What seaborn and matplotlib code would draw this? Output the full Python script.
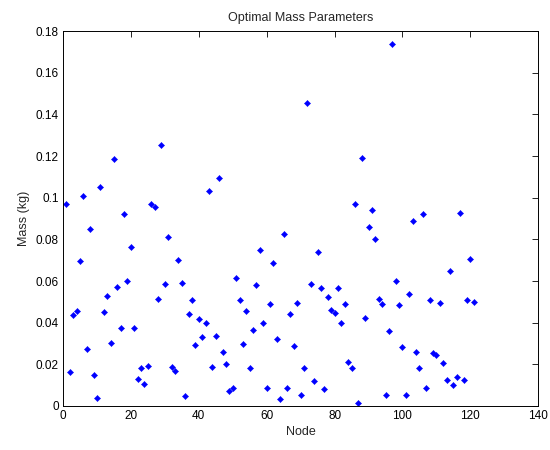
import matplotlib
matplotlib.use("Agg")
import matplotlib.pyplot as plt
import seaborn as sns
import pandas as pd
from matplotlib.ticker import FuncFormatter, MultipleLocator

nodes = list(range(1, 122))
mass = [
    0.097, 0.0164, 0.0438, 0.0457, 0.0694, 0.1006, 0.0274, 0.0849, 0.0148, 0.0038,
    0.1049, 0.0449, 0.0528, 0.0302, 0.1185, 0.0569, 0.0374, 0.0922, 0.0602, 0.0765,
    0.0374, 0.0131, 0.0184, 0.0106, 0.0194, 0.097, 0.0953, 0.0512, 0.1254, 0.0586,
    0.0812, 0.0189, 0.017, 0.0703, 0.059, 0.0048, 0.0443, 0.0507, 0.0295, 0.0417,
    0.0332, 0.040, 0.1033, 0.0189, 0.0338, 0.1096, 0.026, 0.020, 0.0074, 0.0085,
    0.0613, 0.0507, 0.030, 0.0454, 0.0184, 0.0364, 0.058, 0.0749, 0.040, 0.0085,
    0.049, 0.0685, 0.032, 0.0032, 0.0828, 0.0085, 0.0443, 0.0289, 0.0496, 0.0053,
    0.0184, 0.1455, 0.0586, 0.0122, 0.0738, 0.0565, 0.008, 0.0523, 0.0463, 0.0448,
    0.0565, 0.040, 0.0491, 0.0212, 0.018, 0.097, 0.0016, 0.119, 0.0422, 0.086,
    0.0943, 0.080, 0.0516, 0.049, 0.0053, 0.0362, 0.1739, 0.060, 0.0485, 0.0284,
    0.0053, 0.0538, 0.089, 0.026, 0.0184, 0.0922, 0.0085, 0.0507, 0.0255, 0.0247,
    0.0496, 0.0205, 0.0127, 0.0648, 0.0101, 0.0138, 0.0927, 0.0124, 0.051, 0.0707,
    0.050,
]

title = "Optimal Mass Parameters"
xlabel = "Node"
ylabel = "Mass (kg)"

df = pd.DataFrame({"Node": nodes, "Mass": mass})

sns.set_style("white")
plt.rcParams["font.family"] = ["Liberation Sans", "DejaVu Sans"]

fig = plt.figure(figsize=(5.5, 4.5), dpi=100)
ax = fig.add_axes([0.1145, 0.0978, 0.9787 - 0.1145, 0.931 - 0.0978])

sns.scatterplot(data=df, x="Node", y="Mass", ax=ax, marker="D", s=10,
                color="#0000ff", edgecolor="#0000ff", linewidth=0.3)

ax.set_xlim(0, 140)
ax.set_ylim(0, 0.18)
ax.xaxis.set_major_locator(MultipleLocator(20))
ax.yaxis.set_major_locator(MultipleLocator(0.02))
ax.yaxis.set_major_formatter(FuncFormatter(lambda v, p: "%g" % round(v, 4)))
ax.tick_params(direction="in", top=True, right=True, length=4, width=0.6,
               labelsize=8.5, colors="black", pad=3)
for s in ax.spines.values():
    s.set_visible(True)
    s.set_color("black")
    s.set_linewidth(0.7)

ax.set_title(title, fontsize=9, pad=7)
ax.set_xlabel(xlabel, fontsize=9, labelpad=3)
ax.set_ylabel(ylabel, fontsize=9, labelpad=4)

fig.savefig("out.png", dpi=100, facecolor="white")
